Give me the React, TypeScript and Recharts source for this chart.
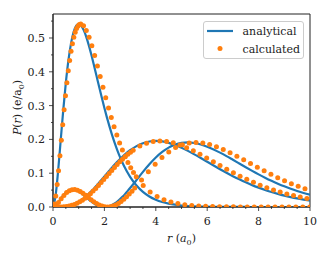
import React from 'react';
import { ComposedChart, Line, Scatter, XAxis, YAxis, ReferenceArea, Legend } from 'recharts';

const BLUE = '#1f77b4';
const ORANGE = '#ff7f0e';
const INK = '#222';
const FONT = "'DejaVu Serif', serif";
const TXT = { fontFamily: FONT, fontSize: 11 };

// analytical curves (r in a0, P in e/a0)
const rGrid = [0,0.1,0.2,0.3,0.4,0.5,0.6,0.7,0.8,0.9,1,1.1,1.2,1.3,1.4,1.5,1.6,1.7,1.8,1.9,2,2.1,2.2,2.3,2.4,2.5,2.6,2.7,2.8,2.9,3,3.25,3.5,3.75,4,4.25,4.5,4.75,5,5.25,5.5,5.75,6,6.25,6.5,6.75,7,7.25,7.5,7.75,8,8.25,8.5,8.75,9,9.25,9.5,9.75,10];
const analytical1s = [0,0.0328,0.1073,0.1976,0.2876,0.3679,0.4337,0.4833,0.5169,0.5356,0.5413,0.5363,0.5225,0.5021,0.4768,0.4481,0.4174,0.3858,0.3541,0.3230,0.2931,0.2645,0.2377,0.2127,0.1896,0.1685,0.1492,0.1317,0.1160,0.1019,0.0892,0.0635,0.0447,0.0311,0.0215,0.0147,0.0100,0.0068,0.0045,0.0030,0.0020,0.0013,0.0009,0.0006,0.0004,0.0003,0.0002,0.0001,0.0001,0,0,0,0,0,0,0,0,0,0];
const analytical2s = [0,0.0041,0.0133,0.0241,0.0343,0.0426,0.0484,0.0514,0.0518,0.0498,0.0460,0.0408,0.0347,0.0282,0.0218,0.0157,0.0103,0.0059,0.0027,0.0007,0,0.0007,0.0027,0.0060,0.0105,0.0160,0.0226,0.0300,0.0381,0.0469,0.0560,0.0800,0.1040,0.1266,0.1465,0.1630,0.1757,0.1845,0.1895,0.1910,0.1893,0.1850,0.1785,0.1703,0.1608,0.1505,0.1396,0.1286,0.1176,0.1069,0.0966,0.0868,0.0776,0.0691,0.0612,0.0540,0.0475,0.0416,0.0363];
const analytical2p = [0,0,0.0001,0.0003,0.0007,0.0016,0.0030,0.0050,0.0077,0.0111,0.0153,0.0203,0.0260,0.0324,0.0395,0.0471,0.0551,0.0636,0.0723,0.0812,0.0902,0.0992,0.1082,0.1169,0.1254,0.1336,0.1414,0.1488,0.1557,0.1622,0.1680,0.1802,0.1888,0.1938,0.1954,0.1939,0.1898,0.1835,0.1755,0.1661,0.1558,0.1450,0.1339,0.1227,0.1118,0.1013,0.0912,0.0818,0.0729,0.0647,0.0573,0.0504,0.0443,0.0387,0.0337,0.0293,0.0254,0.0220,0.0189];

// calculated points
const calc1sR = [0,0.054,0.108,0.162,0.216,0.27,0.324,0.378,0.432,0.486,0.54,0.594,0.648,0.702,0.756,0.81,0.864,0.918,0.972,1.026,1.08,1.188,1.296,1.404,1.512,1.62,1.728,1.836,1.944,2.052,2.16,2.268,2.376,2.484,2.592,2.7,2.808,2.916,3.024,3.132,3.24,3.51,3.78,4.05,4.32,4.59,4.86,5.13,5.4,5.67,5.94,6.21,6.48,6.75,7.02,7.29,7.56,7.83,8.1,8.37,8.64,8.91,9.18,9.45,9.72,9.99];
const calc1sP = [0,0.0090,0.0328,0.0667,0.1073,0.1516,0.1976,0.2433,0.2876,0.3293,0.3679,0.4028,0.4337,0.4606,0.4833,0.5020,0.5169,0.5280,0.5356,0.5399,0.5413,0.5363,0.5225,0.5021,0.4768,0.4481,0.4174,0.3858,0.3541,0.3230,0.2931,0.2645,0.2377,0.2127,0.1896,0.1685,0.1492,0.1317,0.1160,0.1019,0.0892,0.0635,0.0447,0.0311,0.0215,0.0147,0.0100,0.0068,0.0045,0.0030,0.0020,0.0013,0.0009,0.0006,0.0004,0.0003,0.0002,0.0001,0.0001,0,0,0,0,0,0,0];
const calc2sR = [0,0.106,0.212,0.318,0.424,0.53,0.636,0.742,0.848,0.954,1.06,1.166,1.272,1.378,1.484,1.59,1.696,1.802,1.908,2.014,2.12,2.226,2.332,2.438,2.544,2.65,2.756,2.862,2.968,3.074,3.18,3.445,3.71,3.975,4.24,4.505,4.77,5.035,5.3,5.565,5.83,6.095,6.36,6.625,6.89,7.155,7.42,7.685,7.95,8.215,8.48,8.745,9.01,9.275,9.54,9.805];
const calc2sP = [0,0.0041,0.0133,0.0241,0.0343,0.0426,0.0484,0.0514,0.0518,0.0498,0.0460,0.0408,0.0347,0.0282,0.0218,0.0157,0.0103,0.0059,0.0027,0.0007,0,0.0007,0.0027,0.0060,0.0105,0.0160,0.0226,0.0300,0.0381,0.0469,0.0560,0.0800,0.1040,0.1266,0.1465,0.1630,0.1757,0.1845,0.1895,0.1910,0.1893,0.1850,0.1785,0.1703,0.1608,0.1505,0.1396,0.1286,0.1176,0.1069,0.0966,0.0868,0.0776,0.0691,0.0612,0.0540];
const calc2pR = [0,0.104,0.208,0.312,0.416,0.52,0.624,0.728,0.832,0.936,1.04,1.144,1.248,1.352,1.456,1.56,1.664,1.768,1.872,1.976,2.08,2.184,2.288,2.392,2.496,2.6,2.704,2.808,2.912,3.016,3.12,3.38,3.64,3.9,4.16,4.42,4.68,4.94,5.2,5.46,5.72,5.98,6.24,6.5,6.76,7.02,7.28,7.54,7.8,8.06,8.32,8.58,8.84,9.1,9.36,9.62,9.88];
const calc2pP = [0,0,0.0001,0.0003,0.0007,0.0016,0.0030,0.0050,0.0077,0.0111,0.0153,0.0203,0.0260,0.0324,0.0395,0.0471,0.0551,0.0636,0.0723,0.0812,0.0902,0.0992,0.1082,0.1169,0.1254,0.1336,0.1414,0.1488,0.1557,0.1622,0.1680,0.1802,0.1888,0.1938,0.1954,0.1939,0.1898,0.1835,0.1755,0.1661,0.1558,0.1450,0.1339,0.1227,0.1118,0.1013,0.0912,0.0818,0.0729,0.0647,0.0573,0.0504,0.0443,0.0387,0.0337,0.0293,0.0254];

const xTicks = [0,0.5,1,1.5,2,2.5,3,3.5,4,4.5,5,5.5,6,6.5,7,7.5,8,8.5,9,9.5,10];
const yTicks = [0,0.05,0.1,0.15,0.2,0.25,0.3,0.35,0.4,0.45,0.5,0.55];
const xMajorStep = 2;
const yMajorStep = 0.1;
const yMax = 0.571;

const zip = (r: number[], p: number[]) => r.map((v, i) => ({ r: v, p: p[i] }));

const isMajor = (v: number, step: number) => Math.abs(v / step - Math.round(v / step)) < 1e-6;

const XTick = (props: any) => {
  const { x, y, payload } = props;
  const v = payload.value;
  const major = isMajor(v, xMajorStep);
  const axisY = y - 8;
  return (
    <g>
      <line x1={x} x2={x} y1={axisY} y2={axisY + (major ? 4 : 2)} stroke={INK} strokeWidth={0.8} />
      {major && (
        <text x={x} y={axisY + 18} textAnchor="middle" style={TXT} fill={INK}>
          {String(v)}
        </text>
      )}
    </g>
  );
};

const YTick = (props: any) => {
  const { x, y, payload } = props;
  const v = payload.value;
  const major = isMajor(v, yMajorStep);
  const axisX = x + 8;
  return (
    <g>
      <line x1={axisX - (major ? 4 : 2)} x2={axisX} y1={y} y2={y} stroke={INK} strokeWidth={0.8} />
      {major && (
        <text x={axisX - 8} y={y + 4} textAnchor="end" style={TXT} fill={INK}>
          {v.toFixed(1)}
        </text>
      )}
    </g>
  );
};

const XLabel = (props: any) => {
  const vb = props.viewBox || { x: 0, y: 0, width: 0, height: 0 };
  const cx = vb.x + vb.width / 2;
  const cy = vb.y + 35;
  return (
    <text x={cx} y={cy} textAnchor="middle" style={TXT} fill={INK}>
      <tspan fontStyle="italic">r</tspan>
      <tspan> (</tspan>
      <tspan fontStyle="italic">a</tspan>
      <tspan fontSize={8} dy={2.5}>0</tspan>
      <tspan dy={-2.5}>)</tspan>
    </text>
  );
};

const YLabel = (props: any) => {
  const vb = props.viewBox || { x: 0, y: 0, width: 0, height: 0 };
  const cx = vb.x + 8;
  const cy = vb.y + vb.height / 2 - 3;
  return (
    <text x={cx} y={cy} transform={`rotate(-90, ${cx}, ${cy})`} textAnchor="middle" style={TXT} fill={INK}>
      <tspan fontStyle="italic">P</tspan>
      <tspan>(</tspan>
      <tspan fontStyle="italic">r</tspan>
      <tspan>) (e/a</tspan>
      <tspan fontSize={8} dy={2.5}>0</tspan>
      <tspan dy={-2.5}>)</tspan>
    </text>
  );
};

const LegendBox = () => (
  <div
    style={{
      width: 101,
      height: 38,
      boxSizing: 'border-box',
      border: '1px solid #cccccc',
      borderRadius: 3,
      background: 'rgba(255,255,255,0.8)',
    }}
  >
    <svg width={99} height={36} style={{ display: 'block' }}>
      <line x1={3} x2={29} y1={9} y2={9} stroke={BLUE} strokeWidth={2.2} />
      <circle cx={16} cy={26.5} r={2.5} fill={ORANGE} />
      <text x={38.5} y={13} style={TXT} fill={INK}>analytical</text>
      <text x={38.5} y={30.5} style={TXT} fill={INK}>calculated</text>
    </svg>
  </div>
);

const dotShape = (props: any) => <circle cx={props.cx} cy={props.cy} r={2.5} fill={ORANGE} />;

export default function App() {
  return (
    <div style={{ fontFamily: FONT }}>
      <ComposedChart width={318} height={248} margin={{ top: 6, right: 16, bottom: 9, left: 5 }}>
        <XAxis
          type="number"
          dataKey="r"
          domain={[0, 10]}
          ticks={xTicks}
          interval={0}
          tickSize={4}
          tickMargin={4}
          tickLine={false}
          tick={<XTick />}
          height={40}
          axisLine={{ stroke: INK, strokeWidth: 1 }}
          allowDataOverflow
          label={XLabel}
        />
        <YAxis
          type="number"
          domain={[0, yMax]}
          ticks={yTicks}
          interval={0}
          tickSize={4}
          tickMargin={4}
          tickLine={false}
          tick={<YTick />}
          width={40}
          axisLine={{ stroke: INK, strokeWidth: 1 }}
          allowDataOverflow
          label={YLabel}
        />
        <ReferenceArea x1={0} x2={10} y1={0} y2={yMax} fill="none" stroke={INK} strokeWidth={1} ifOverflow="visible" />
        <Line data={zip(rGrid, analytical1s)} dataKey="p" type="monotone" stroke={BLUE} strokeWidth={2.2} dot={false} activeDot={false} isAnimationActive={false} />
        <Line data={zip(rGrid, analytical2s)} dataKey="p" type="monotone" stroke={BLUE} strokeWidth={2.2} dot={false} activeDot={false} isAnimationActive={false} />
        <Line data={zip(rGrid, analytical2p)} dataKey="p" type="monotone" stroke={BLUE} strokeWidth={2.2} dot={false} activeDot={false} isAnimationActive={false} />
        <Scatter data={zip(calc1sR, calc1sP)} dataKey="p" shape={dotShape} isAnimationActive={false} />
        <Scatter data={zip(calc2sR, calc2sP)} dataKey="p" shape={dotShape} isAnimationActive={false} />
        <Scatter data={zip(calc2pR, calc2pP)} dataKey="p" shape={dotShape} isAnimationActive={false} />
        <Legend
          layout="vertical"
          align="center"
          verticalAlign="middle"
          content={<LegendBox />}
          wrapperStyle={{ left: 195, top: 13, width: 101, height: 38 }}
        />
      </ComposedChart>
    </div>
  );
}
